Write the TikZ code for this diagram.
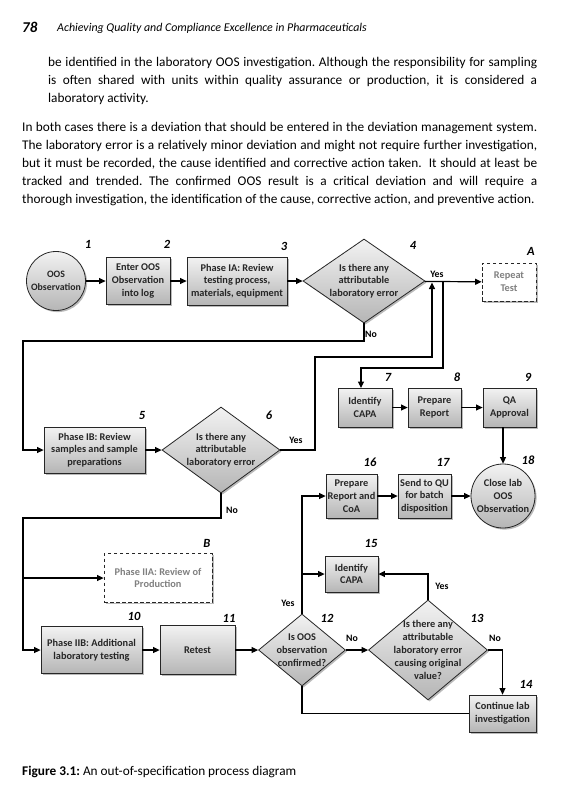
\documentclass[tikz,border=0pt]{standalone}
\usepackage{fontspec}
\setmainfont{Carlito}
\usetikzlibrary{shapes.geometric,arrows.meta,shadows}
\frenchspacing
\begin{document}
\begin{tikzpicture}[x=1pt,y=-1pt,
  every node/.style={inner sep=0pt},
  bodyline/.style={anchor=base west, font=\fontsize{13.3}{15}\selectfont},
  shd/.style={drop shadow={shadow xshift=1.6pt,shadow yshift=-1.6pt,opacity=0.45,fill=black!60}},
  grad/.style={top color=gray!10, bottom color=gray!58},
  box/.style={rectangle, draw=black!85, line width=0.8pt, grad, shd, align=center,
    font=\fontsize{10.3}{12.8}\selectfont\bfseries, text=black!85},
  dbox/.style={rectangle, draw=black!85, line width=0.8pt, dash pattern=on 3.5pt off 2.5pt, fill=white,
    shd, align=center, font=\fontsize{10.3}{12.8}\selectfont\bfseries, text=black!50},
  circ/.style={circle, draw=black!85, line width=0.8pt, grad, shd},
  dia/.style={diamond, draw=black!85, line width=0.8pt, grad, shd},
  intext/.style={align=center, font=\fontsize{10.3}{12.8}\selectfont\bfseries, text=black!85},
  num/.style={font=\fontsize{12.5}{14}\selectfont\bfseries\itshape},
  yn/.style={font=\fontsize{9.8}{12}\selectfont\bfseries},
  conn/.style={line width=1.2pt, draw=black},
  arr/.style={conn, -{Triangle[length=6.5pt,width=6pt]}}
]
\useasboundingbox (0,0) rectangle (574,806);
\fill[white] (0,0) rectangle (574,806);

% header
\node[anchor=base west, font=\fontsize{15}{17}\selectfont\bfseries\itshape] (pg) at (22,32) {78};
\node[anchor=base west, font=\fontsize{11.9}{14}\selectfont\itshape] (ttl) at (57,31.5) {Achieving Quality and Compliance Excellence in Pharmaceuticals};

% paragraph 1
\node[bodyline] (p1a) at (48,66) {\makebox[489pt][s]{be identified in the laboratory OOS investigation. Although the responsibility for sampling}};
\node[bodyline] (p1b) at (48,84) {\makebox[489pt][s]{is often shared with units within quality assurance or production, it is considered a}};
\node[bodyline] (p1c) at (48,102) {laboratory activity.};

% paragraph 2
\node[bodyline] (p2a) at (22,131) {\makebox[515pt][s]{In both cases there is a deviation that should be entered in the deviation management system.}};
\node[bodyline] (p2b) at (22,149) {\makebox[515pt][s]{The laboratory error is a relatively minor deviation and might not require further investigation,}};
\node[bodyline] (p2c) at (22,167) {\makebox[515pt][s]{but it must be recorded, the cause identified and corrective action taken.\ \ It should at least be}};
\node[bodyline] (p2d) at (22,185) {\makebox[515pt][s]{tracked and trended. The confirmed OOS result is a critical deviation and will require a}};
\node[bodyline] (p2e) at (22,203) {thorough investigation, the identification of the cause, corrective action, and preventive action.};

% ---- row 1
\node[circ, minimum size=59pt] (n1) at (56,281) {};
\node[intext, font=\fontsize{9.8}{12.5}\selectfont\bfseries] (n1t) at (n1) {OOS\\Observation};
\node[box, minimum width=64pt, minimum height=47pt] (n2) at (138,281) {Enter OOS\\Observation\\into log};
\node[box, minimum width=100pt, minimum height=48pt] (n3) at (237,281) {Phase IA: Review\\testing process,\\materials, equipment};
\node[dia, minimum width=122pt, minimum height=84pt] (n4) at (364,281) {};
\node[intext] (n4t) at (n4) {Is there any\\attributable\\laboratory error};
\node[dbox, minimum width=54pt, minimum height=38pt] (nA) at (509,282) {Repeat\\Test};

\node[num] (l1) at (88,244) {1};
\node[num] (l2) at (167,244) {2};
\node[num] (l3) at (284,246) {3};
\node[num] (l4) at (413,245) {4};
\node[num] (lA) at (531,251) {A};

% ---- row 2
\node[box, minimum width=101pt, minimum height=46pt] (n5) at (94.5,450) {Phase IB: Review\\samples and sample\\preparations};
\node[dia, minimum width=118pt, minimum height=86pt] (n6) at (221,450) {};
\node[intext] (n6t) at (n6) {Is there any\\attributable\\laboratory error};
\node[num] (l5) at (142,415) {5};
\node[num] (l6) at (269,415) {6};

\node[box, minimum width=54pt, minimum height=39pt] (n7) at (365,407.5) {Identify\\CAPA};
\node[box, minimum width=53pt, minimum height=39pt] (n8) at (434.5,407.5) {Prepare\\Report};
\node[box, minimum width=53pt, minimum height=39pt] (n9) at (509.5,407.5) {QA\\Approval};
\node[num] (l7) at (388,377) {7};
\node[num] (l8) at (457,377) {8};
\node[num] (l9) at (528,377) {9};

\node[box, minimum width=51pt, minimum height=44pt] (n16) at (351.5,496) {Prepare\\Report and\\CoA};
\node[box, minimum width=53pt, minimum height=44pt] (n17) at (424.5,496) {Send to QU\\for batch\\disposition};
\node[circ, minimum size=64pt] (n18) at (503,496) {};
\node[intext] (n18t) at (n18) {Close lab\\OOS\\Observation};
\node[num] (l16) at (370,462) {16};
\node[num] (l17) at (443,462) {17};
\node[num] (l18) at (528,460) {18};

% ---- row 3
\node[dbox, minimum width=108pt, minimum height=49pt] (nB) at (158,578) {Phase IIA: Review of\\Production};
\node[num] (lB) at (207,543) {B};
\node[box, minimum width=53pt, minimum height=36pt] (n15) at (351.5,574) {Identify\\CAPA};
\node[num] (l15) at (371,543) {15};

\node[box, minimum width=101pt, minimum height=47pt] (n10) at (91.5,650) {Phase IIB: Additional\\laboratory testing};
\node[box, minimum width=75pt, minimum height=49pt] (n11) at (197.5,650) {Retest};
\node[dia, minimum width=87pt, minimum height=72pt] (n12) at (302,650) {};
\node[intext] (n12t) at (n12) {Is OOS\\observation\\confirmed?};
\node[dia, minimum width=119pt, minimum height=100pt] (n13) at (428,650) {};
\node[intext] (n13t) at (n13) {Is there any\\attributable\\laboratory error\\causing original\\value?};
\node[box, minimum width=67pt, minimum height=37pt] (n14) at (502.5,713.5) {Continue lab\\investigation};
\node[num] (l10) at (134,616) {10};
\node[num] (l11) at (229,618) {11};
\node[num] (l12) at (327,618) {12};
\node[num] (l13) at (477,618) {13};
\node[num] (l14) at (526,684) {14};

% yes / no labels
\node[yn] (y4) at (437,274) {Yes};
\node[yn] (no4) at (371,334) {No};
\node[yn] (y6) at (296,440) {Yes};
\node[yn] (no6) at (232,510) {No};
\node[yn] (y12) at (288,603) {Yes};
\node[yn] (no12) at (352,638) {No};
\node[yn] (y13) at (442,586) {Yes};
\node[yn] (no13) at (495,638) {No};

% coordinates for routing
\coordinate (k1) at (23,341);
\coordinate (k2) at (315,357);
\coordinate (k3) at (432,357);
\coordinate (k4) at (432,282.5);
\coordinate (k5) at (443,281);
\coordinate (k6) at (443,368);
\coordinate (k7) at (361,388);
\coordinate (k8) at (23,518);

% connectors
\draw[arr] (n1) -- (n2);
\draw[arr] (n2) -- (n3);
\draw[arr] (n3) -- (n4);
\draw[arr] (n4) -- (nA);
\draw[arr] (n4.south) |- (k1) |- (n5.west);
\draw[arr] (n5) -- (n6);
\draw[arr] (n6.east) -| (k2) -- (k3) -- (k4);
\draw[arr] (k5) -- (k6) -| (k7);
\draw[arr] (n7) -- (n8);
\draw[arr] (n8) -- (n9);
\draw[arr] (n9.south -| n18) -- (n18.north);
\draw[arr] (n6.south) |- (k8) |- (n10.west);
\draw[arr] (nB.west -| k8) -- (nB.west);
\draw[arr] (n10) -- (n11);
\draw[arr] (n11) -- (n12);
\draw[arr] (n12) -- (n13);
\draw[arr] (n12.north) |- (n16.west);
\draw[arr] (n15.west -| n12) -- (n15.west);
\draw[arr] (n13.north) |- (n15.east);
\draw[arr] (n13.east) -| (n14.north);
\draw[conn] (n12.south) |- (n14.west);
\draw[arr] (n16) -- (n17);
\draw[arr] (n17) -- (n18);

% caption
\node[anchor=base west, font=\fontsize{13.3}{15}\selectfont] (cap) at (22,775) {\textbf{Figure 3.1:} An out-of-specification process diagram};
\end{tikzpicture}
\end{document}
